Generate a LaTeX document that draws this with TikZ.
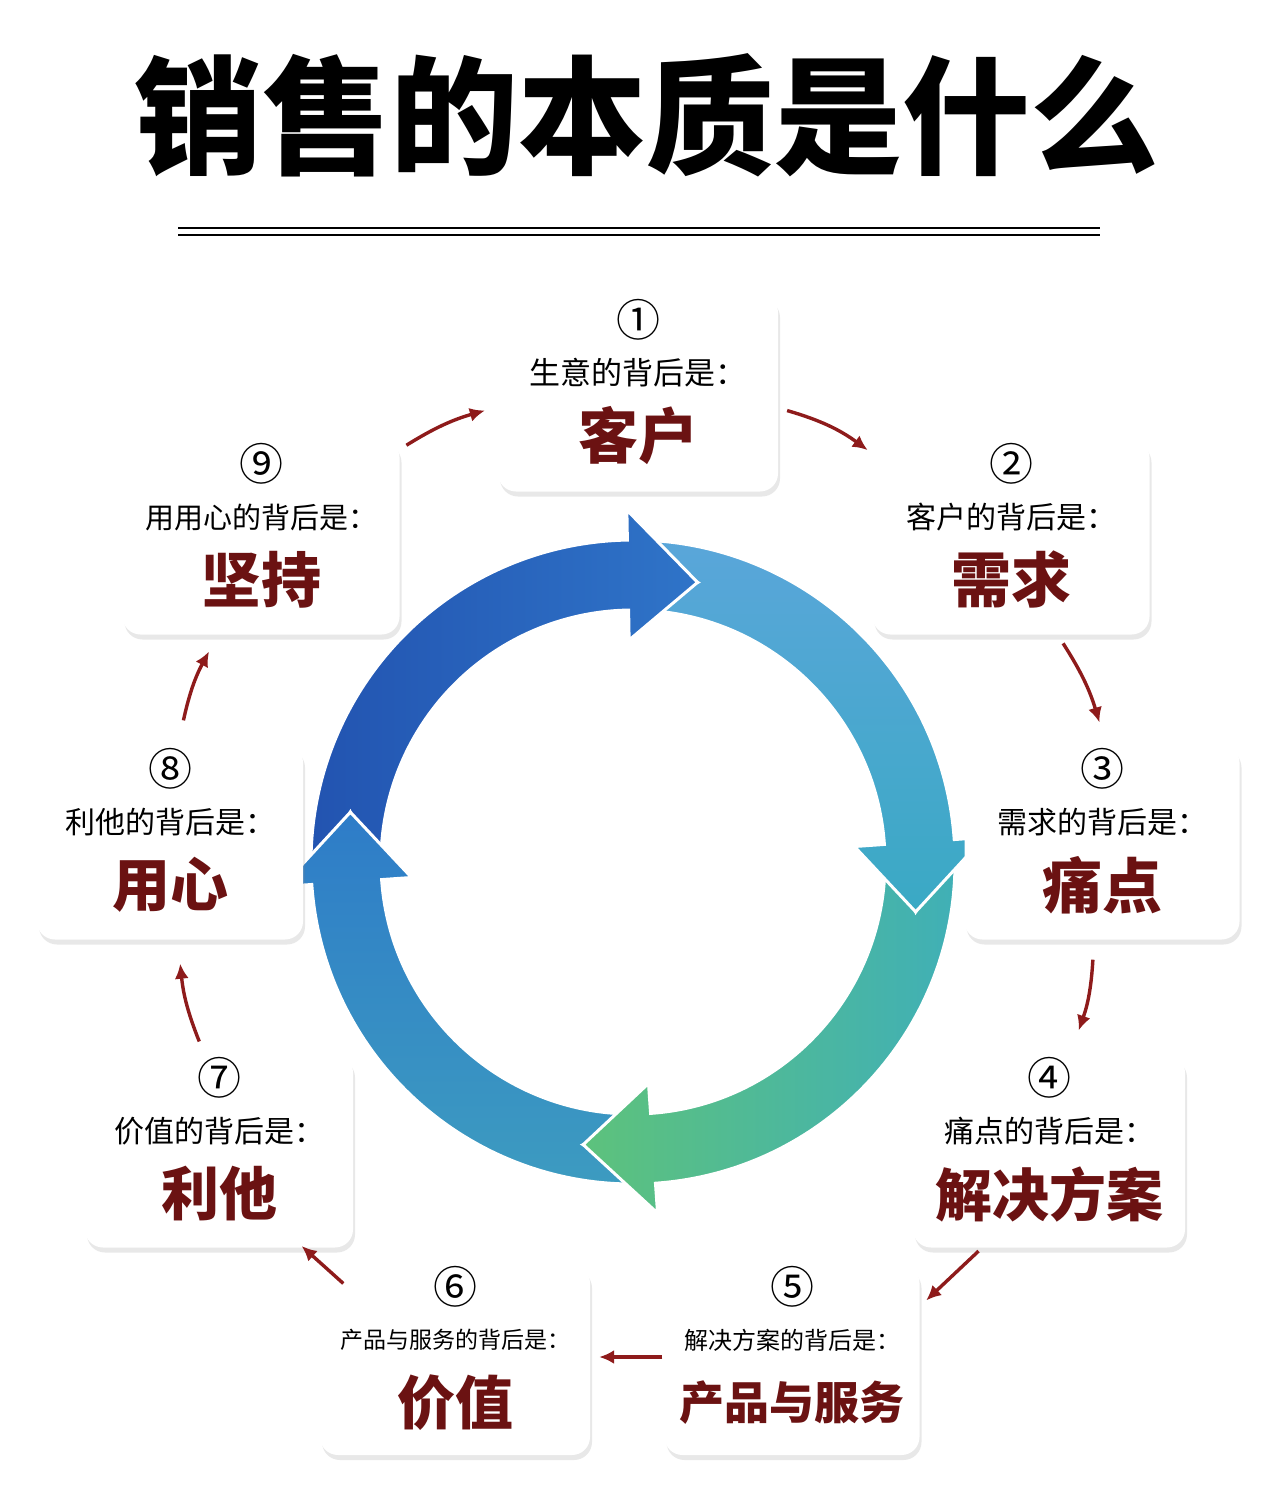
\documentclass[tikz,border=0pt]{standalone}
\usepackage{fontspec}
\setmainfont{Noto Sans CJK SC}
\newfontfamily\cjk{Noto Sans CJK SC}
\usetikzlibrary{calc,shadows,positioning,arrows.meta}
\definecolor{darkred}{HTML}{6B1212}
\definecolor{arrowred}{HTML}{8E1B1B}
\definecolor{ringA}{HTML}{2253B0}
\definecolor{ringB}{HTML}{2F74C8}
\definecolor{ringC}{HTML}{5AA6DA}
\definecolor{ringD}{HTML}{3AA9C4}
\definecolor{ringE}{HTML}{3FAFB8}
\definecolor{ringF}{HTML}{5DC27C}
\definecolor{ringG}{HTML}{3D9CC0}
\definecolor{ringH}{HTML}{2E7CC8}

% one quarter of the ring, with a head at the end and a notch at the tail
\newcommand\ringpart[3]{%
  \shadedraw[#3,draw=white,line width=3pt,line join=miter]
    ($(c)+(#1:322)$) arc[start angle=#1,end angle=#2,radius=322]
    -- ($(c)+(#2:352)$) -- ($(c)+({#2-14}:287)$) -- ($(c)+(#2:222)$)
    -- ($(c)+(#2:252)$) arc[start angle=#2,end angle=#1,radius=252]
    -- ($(c)+({#1-14}:287)$) -- cycle;}

\begin{document}
\begin{tikzpicture}[x=1pt,y=1pt,
    card/.style={draw=none,fill=white,rounded corners=18pt,
      drop shadow={opacity=0.18,shadow xshift=2pt,shadow yshift=-5pt}},
    link/.style={-{Latex[length=15pt,width=14pt]},arrowred,line width=3.4pt,shorten >=2pt,shorten <=2pt}]
  \useasboundingbox (0,0) rectangle (1280,-1496);
  \fill[white] (0,0) rectangle (1280,-1496);

  % title
  \node[font=\cjk\bfseries\fontsize{128}{128}\selectfont] (title) at (646,-115) {销售的本质是什么};
  \draw[line width=1.4pt] (178,-228) -- (1100,-228);
  \draw[line width=1.4pt] (178,-235) -- (1100,-235);

  % ring
  \coordinate (c) at (633,-862);
  \ringpart{184}{91}{left color=ringA,right color=ringB}
  \ringpart{-86}{-176}{bottom color=ringG,top color=ringH}
  \ringpart{4}{-86}{right color=ringE,left color=ringF}
  \ringpart{91}{4}{top color=ringC,bottom color=ringD}
  \begin{scope}
    \clip (c) -- ($(c)+(100:420)$) -- ($(c)+(68:420)$) -- cycle;
    \ringpart{184}{91}{left color=ringA,right color=ringB}
  \end{scope}

  % cards
  \foreach \i/\x/\y/\w/\h/\n/\s/\sz/\b/\bz in {
      1/638/393/280/197/①/生意的背后是：/31/客户/60,
      2/1011/537/277/195/②/客户的背后是：/30/需求/60,
      3/1102/842/275/195/③/需求的背后是：/30/痛点/60,
      4/1049/1151/272/193/④/痛点的背后是：/30/解决方案/57,
      5/792/1360/255/190/⑤/解决方案的背后是：/24/产品与服务/45,
      6/455/1360/270/190/⑥/产品与服务的背后是：/23/价值/58,
      7/219/1151/268/193/⑦/价值的背后是：/30/利他/58,
      8/170/842/266/195/⑧/利他的背后是：/30/用心/58,
      9/261/537/277/195/⑨/用用心的背后是：/29/坚持/60} {
    \node[card,minimum width=\w,minimum height=\h] (b\i) at (\x,-\y) {};
    \node[font=\fontsize{44}{44}\selectfont] (n\i) at ($(b\i)+(0,73)$) {\n};
    \node[font=\fontsize{\sz}{\sz}\selectfont] (s\i) at ($(b\i)+(0,20)$) {\s};
    \node[font=\bfseries\fontsize{\bz}{\bz}\selectfont,text=darkred] (t\i) at ($(b\i)+(0,-43)$) {\b};
  }

  % connectors
  \draw[link] ($(b1.east)+(7,-17)$) to[bend left=10] ($(b2.north west)+(-3,-12)$);
  \draw[link] ($(b2.south)+(51,-7)$) to[bend left=8] ($(b3.north)+(-2,20)$);
  \draw[link] ($(b3.south)+(-9,-18)$) to[bend left=8] ($(b4.north)+(29,22)$);
  \draw[link] ($(b4.south)+(-69,-2)$) -- ($(b5.north east)+(5,-37)$);
  \draw[link] ($(b5.west)+(0,3)$) -- ($(b6.east)+(7,3)$);
  \draw[link] ($(b6.north west)+(25,-20)$) -- ($(b7.south east)+(-53,3)$);
  \draw[link] ($(b7.north)+(-19,11)$) to[bend left=8] ($(b8.south)+(10,-22)$);
  \draw[link] ($(b8.north)+(13,22)$) to[bend left=8] ($(b9.south)+(-51,-15)$);
  \draw[link] ($(b9.north east)+(5,-7)$) to[bend left=8] ($(b1.west)+(-11,-17)$);
\end{tikzpicture}
\end{document}
